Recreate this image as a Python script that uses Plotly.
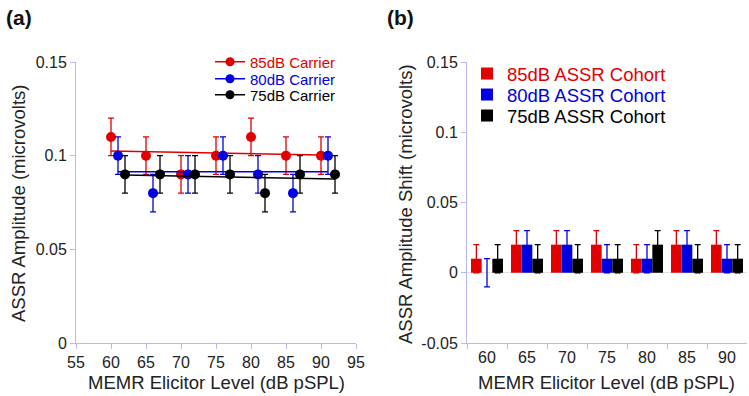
import numpy as np
import plotly.graph_objects as go

# ---------------- Data ----------------
# Panel (a): ASSR amplitude vs MEMR elicitor level (points offset by carrier)
x_85 = [60, 65, 70, 75, 80, 85, 90]
y_85 = [0.11, 0.10, 0.09, 0.10, 0.11, 0.10, 0.10]
e_85 = [0.01, 0.01, 0.01, 0.01, 0.01, 0.01, 0.01]

x_80 = [61, 66, 71, 76, 81, 86, 91]
y_80 = [0.10, 0.08, 0.09, 0.10, 0.09, 0.08, 0.10]
e_80 = [0.01, 0.01, 0.01, 0.01, 0.01, 0.01, 0.01]

x_75 = [62, 67, 72, 77, 82, 87, 92]
y_75 = [0.09, 0.09, 0.09, 0.09, 0.08, 0.09, 0.09]
e_75 = [0.01, 0.01, 0.01, 0.01, 0.01, 0.01, 0.01]

# Panel (b): ASSR amplitude shift per cohort
levels = ["60", "65", "70", "75", "80", "85", "90"]
shift_85 = [0.01, 0.02, 0.02, 0.02, 0.01, 0.02, 0.02]
shift_80 = [0.00, 0.02, 0.02, 0.01, 0.01, 0.02, 0.01]
shift_75 = [0.01, 0.01, 0.01, 0.01, 0.02, 0.01, 0.01]
err_85 = [0.01, 0.01, 0.01, 0.01, 0.01, 0.01, 0.01]
err_80 = [0.01, 0.01, 0.01, 0.01, 0.01, 0.01, 0.01]
err_75 = [0.01, 0.01, 0.01, 0.01, 0.01, 0.01, 0.01]

a_xticks = [55, 60, 65, 70, 75, 80, 85, 90, 95]
a_yticks = [0, 0.05, 0.1, 0.15]
a_yticktext = ["0", "0.05", "0.1", "0.15"]
b_yticks = [-0.05, 0, 0.05, 0.1, 0.15]
b_yticktext = ["-0.05", "0", "0.05", "0.1", "0.15"]

RED = "#e00000"
BLUE = "#0000e0"
BLACK = "#000000"
AXIS = "#b8b8ee"
FONT = "Liberation Sans, Arial, sans-serif"

W, H = 749, 396


def px(x):
    return x / W


def py(y):
    return (H - y) / H


fig = go.Figure()

series_a = [
    ("85dB Carrier", x_85, y_85, e_85, RED, "legend", 62),
    ("80dB Carrier", x_80, y_80, e_80, BLUE, "legend3", 79),
    ("75dB Carrier", x_75, y_75, e_75, BLACK, "legend4", 95),
]

for name, xs, ys, es, col, lg, ly in series_a:
    k, b = np.polyfit(xs, ys, 1)  # linear trend line fitted to the points
    xl = [min(xs), max(xs)]
    fig.add_trace(go.Scatter(
        x=xl, y=[k * v + b for v in xl], mode="lines",
        line=dict(color=col, width=1.5), showlegend=False,
        hoverinfo="skip", xaxis="x", yaxis="y"))
    fig.add_trace(go.Scatter(
        x=xs, y=ys, mode="markers",
        marker=dict(color=col, size=10),
        error_y=dict(type="data", array=es, color=col, thickness=1.3, width=3),
        showlegend=False, xaxis="x", yaxis="y"))
    fig.add_trace(go.Scatter(
        x=[None], y=[None], mode="lines+markers",
        name=f"<span style='color:{col}'>{name}</span>",
        line=dict(color=col, width=1.5), marker=dict(color=col, size=9),
        legend=lg, xaxis="x", yaxis="y"))

series_b = [
    ("85dB ASSR Cohort", shift_85, err_85, RED, "legend2", 74),
    ("80dB ASSR Cohort", shift_80, err_80, BLUE, "legend5", 95),
    ("75dB ASSR Cohort", shift_75, err_75, BLACK, "legend6", 116),
]
for name, ys, es, col, lg, ly in series_b:
    fig.add_trace(go.Bar(
        x=levels, y=ys, name=f"<span style='color:{col}'>{name}</span>",
        marker=dict(color=col, line=dict(width=0)),
        error_y=dict(type="data", array=es, color=col, thickness=1.3, width=3),
        legend=lg, xaxis="x2", yaxis="y2"))

ydom = [py(343), py(62)]

axis_common = dict(showline=True, linecolor=AXIS, linewidth=1, ticks="outside",
                   tickcolor=AXIS, ticklen=5, showgrid=False, mirror=False,
                   automargin=False,
                   tickfont=dict(size=16, color="#222", family=FONT))

legends = {}
for name, *_rest, lg, ly in series_a:
    legends[lg] = dict(x=px(210), y=py(ly), xanchor="left", yanchor="middle",
                       bgcolor="rgba(0,0,0,0)", font=dict(size=15, family=FONT),
                       borderwidth=0)
for name, *_rest, lg, ly in series_b:
    legends[lg] = dict(x=px(467), y=py(ly), xanchor="left", yanchor="middle",
                       bgcolor="rgba(0,0,0,0)", font=dict(size=18.5, family=FONT),
                       borderwidth=0)

fig.update_layout(
    template="none",
    width=W, height=H,
    margin=dict(l=0, r=0, t=0, b=0, pad=0),
    paper_bgcolor="white", plot_bgcolor="white",
    font=dict(family=FONT, color="#222"),
    barmode="group", bargap=0.2, bargroupgap=0,
    xaxis=dict(domain=[px(76), px(356)], range=[55, 95], tickvals=a_xticks,
               zeroline=False, anchor="y", **axis_common),
    yaxis=dict(domain=ydom, range=[0, 0.15], tickvals=a_yticks, ticktext=a_yticktext,
               zeroline=False, anchor="x", **axis_common),
    xaxis2=dict(domain=[px(467), px(747)], type="category", tickson="boundaries",
                zeroline=False, anchor="y2", **axis_common),
    yaxis2=dict(domain=ydom, range=[-0.05, 0.15], tickvals=b_yticks, ticktext=b_yticktext,
                zeroline=True, zerolinecolor="#e4e4e4", zerolinewidth=1,
                anchor="x2", **axis_common),
    showlegend=True,
    **legends,
)

annotations = [
    dict(text="<b>(a)</b>", x=px(4), y=py(18), font=dict(size=21, color="#111")),
    dict(text="<b>(b)</b>", x=px(385), y=py(18), font=dict(size=21, color="#111")),
    dict(text="MEMR Elicitor Level (dB pSPL)", x=px(216), y=py(382),
         xanchor="center", font=dict(size=18.5, color="#222")),
    dict(text="MEMR Elicitor Level (dB pSPL)", x=px(606), y=py(382),
         xanchor="center", font=dict(size=18.5, color="#222")),
    dict(text="ASSR Amplitude (microvolts)", x=px(18), y=py(204),
         xanchor="center", textangle=-90, font=dict(size=18.5, color="#222")),
    dict(text="ASSR Amplitude Shift (microvolts)", x=px(405), y=py(204),
         xanchor="center", textangle=-90, font=dict(size=18.5, color="#222")),
]
for a in annotations:
    a.setdefault("xanchor", "left")
    a.update(xref="paper", yref="paper", yanchor="middle", showarrow=False)
fig.update_layout(annotations=annotations)

# place the figure at the window's top-left corner (no default page margin)
fig.write_html("out.html",
               config={"displayModeBar": False},
               post_script="document.body.style.margin='0';"
                           "document.body.style.overflow='hidden';")
